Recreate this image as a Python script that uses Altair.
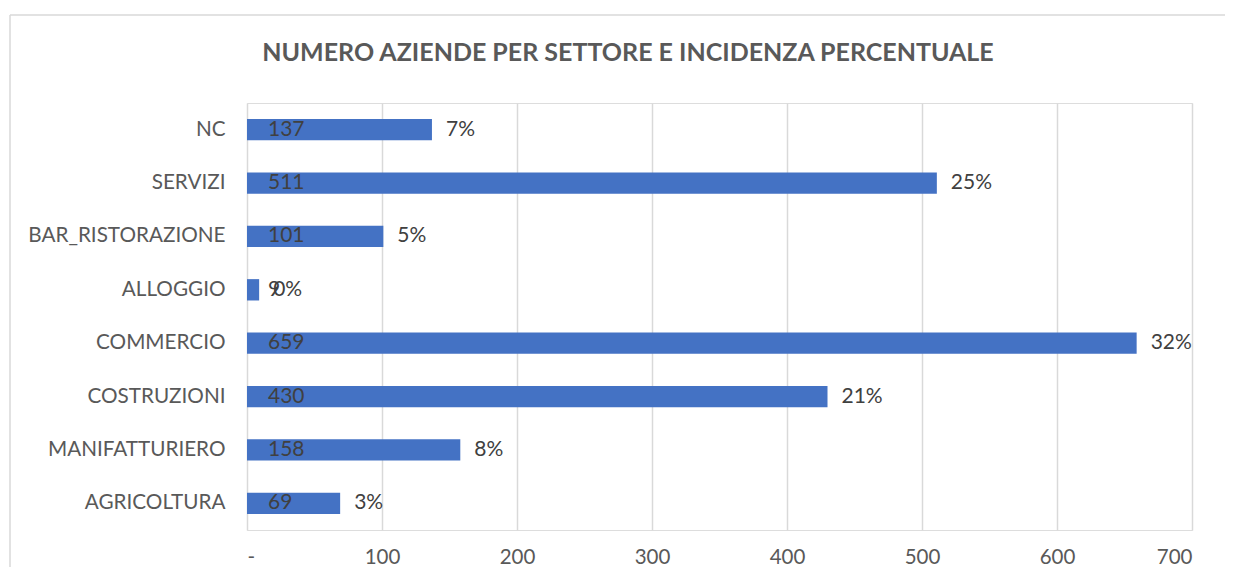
import altair as alt
import pandas as pd

categories = ["NC", "SERVIZI", "BAR_RISTORAZIONE", "ALLOGGIO", "COMMERCIO",
              "COSTRUZIONI", "MANIFATTURIERO", "AGRICOLTURA"]
values = [137, 511, 101, 9, 659, 430, 158, 69]
percents = ["7%", "25%", "5%", "0%", "32%", "21%", "8%", "3%"]
x_ticks = [0, 100, 200, 300, 400, 500, 600, 700]
title_text = "NUMERO AZIENDE PER SETTORE E INCIDENZA PERCENTUALE"

df = pd.DataFrame({"Settore": categories, "Aziende": values, "Pct": percents})

FONT = "Lato"
W, H = 945, 427

x_enc = alt.X("Aziende:Q",
              scale=alt.Scale(domain=[0, 700], nice=False, zero=True),
              axis=alt.Axis(values=x_ticks, title=None, domain=False, ticks=False,
                            grid=True, gridColor="#d9d9d9", gridWidth=1.5,
                            labelExpr="datum.value == 0 ? '-' : datum.label",
                            labelFont=FONT, labelFontSize=20.5, labelColor="#595959",
                            labelPadding=17))
y_enc = alt.Y("Settore:N", sort=categories,
              scale=alt.Scale(paddingInner=0.6, paddingOuter=0.3),
              axis=alt.Axis(title=None, domain=False, ticks=False, labelFont=FONT,
                            labelFontSize=20.7, labelColor="#595959", labelPadding=22,
                            labelLimit=400))

base = alt.Chart(df)
bars = base.mark_bar(color="#4472C4").encode(x=x_enc, y=y_enc)
inside = base.mark_text(align="left", baseline="middle", dx=21, font=FONT,
                        fontSize=21, color="#404040").encode(
    x=alt.datum(0), y=alt.Y("Settore:N", sort=categories), text="Aziende:Q")
pct = base.mark_text(align="left", baseline="middle", dx=14, font=FONT,
                     fontSize=21, color="#404040").encode(
    x="Aziende:Q", y=alt.Y("Settore:N", sort=categories), text="Pct:N")

one = alt.Chart(pd.DataFrame({"t": [title_text]}))
title = one.mark_text(align="center", baseline="middle", font=FONT, fontSize=25,
                      fontWeight="bold", color="#595959").encode(
    x=alt.value(628 - 247), y=alt.value(53 - 103), text="t:N")
border_left = one.mark_rule(color="#d9d9d9", strokeWidth=1.5).encode(
    x=alt.value(10 - 247), y=alt.value(15 - 103), y2=alt.value(H + 60))
border_top = one.mark_rule(color="#d9d9d9", strokeWidth=1.5).encode(
    x=alt.value(10 - 247), x2=alt.value(W + 40), y=alt.value(15 - 103))

chart = alt.layer(border_left, border_top, bars, inside, pct, title).properties(
    width=W, height=H,
    autosize=alt.AutoSizeParams(type="none"),
    padding={"left": 239, "top": 95, "right": 33, "bottom": 37},
).configure_view(stroke=None).configure(background="white")

chart.save("out.html", embed_options={"renderer": "svg", "actions": False})
